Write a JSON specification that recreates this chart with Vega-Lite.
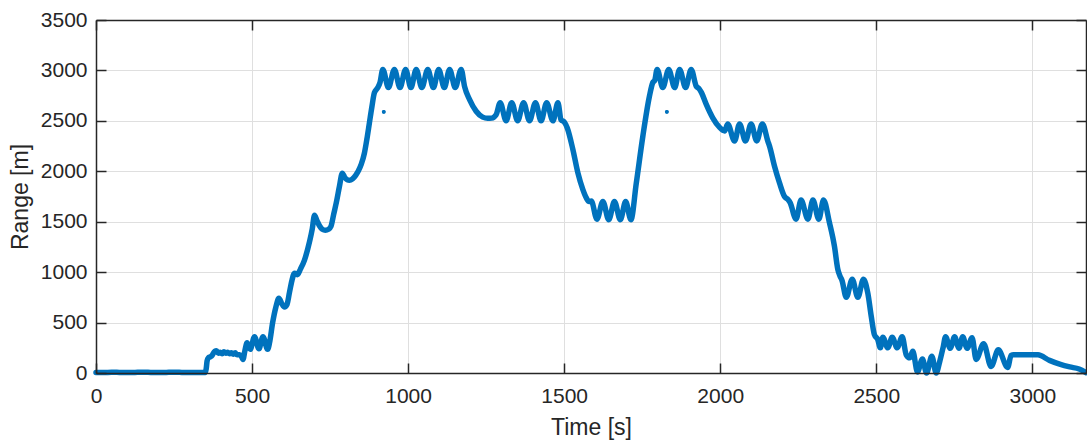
{
  "$schema": "https://vega.github.io/schema/vega-lite/v6.json",
  "autosize": {"type": "none"},
  "width": 990,
  "height": 353,
  "padding": {"left": 96, "top": 20, "right": 1, "bottom": 68},
  "background": "#ffffff",
  "config": {
    "font": "Liberation Sans",
    "view": {"stroke": null},
    "axis": {
      "gridColor": "#dfdfdf",
      "gridWidth": 1,
      "labelFlush": false,
      "labelOverlap": false,
      "labelFont": "Liberation Sans",
      "labelFontSize": 21,
      "labelColor": "#262626",
      "titleFont": "Liberation Sans",
      "titleFontSize": 23,
      "titleFontWeight": "normal",
      "titleColor": "#262626",
      "format": "d"
    }
  },
  "datasets": {
    "track": [
      {"time": 0, "range": 6}, {"time": 25, "range": 5}, {"time": 50, "range": 7}, {"time": 75, "range": 6},
      {"time": 100, "range": 5}, {"time": 125, "range": 6}, {"time": 150, "range": 7}, {"time": 175, "range": 6},
      {"time": 200, "range": 5}, {"time": 225, "range": 6}, {"time": 250, "range": 7}, {"time": 275, "range": 6},
      {"time": 300, "range": 5}, {"time": 325, "range": 6}, {"time": 350, "range": 6},
      {"time": 353, "range": 40}, {"time": 356, "range": 120}, {"time": 360, "range": 150}, {"time": 366, "range": 160},
      {"time": 372, "range": 175}, {"time": 380, "range": 215}, {"time": 386, "range": 220}, {"time": 392, "range": 195},
      {"time": 398, "range": 205}, {"time": 404, "range": 190}, {"time": 410, "range": 210}, {"time": 416, "range": 195},
      {"time": 422, "range": 205}, {"time": 428, "range": 190}, {"time": 434, "range": 200}, {"time": 440, "range": 185},
      {"time": 446, "range": 200}, {"time": 452, "range": 180}, {"time": 460, "range": 180}, {"time": 466, "range": 165},
      {"time": 471, "range": 135}, {"time": 477, "range": 220}, {"time": 484, "range": 300}, {"time": 494, "range": 235},
      {"time": 508, "range": 360}, {"time": 522, "range": 240}, {"time": 535, "range": 360}, {"time": 550, "range": 235},
      {"time": 556, "range": 300}, {"time": 566, "range": 500}, {"time": 576, "range": 650}, {"time": 586, "range": 740},
      {"time": 595, "range": 690}, {"time": 604, "range": 655}, {"time": 612, "range": 680}, {"time": 620, "range": 800},
      {"time": 628, "range": 920}, {"time": 636, "range": 990}, {"time": 645, "range": 975}, {"time": 655, "range": 1030},
      {"time": 668, "range": 1120}, {"time": 684, "range": 1300}, {"time": 693, "range": 1430}, {"time": 700, "range": 1565},
      {"time": 708, "range": 1510}, {"time": 716, "range": 1460}, {"time": 725, "range": 1425}, {"time": 735, "range": 1415},
      {"time": 745, "range": 1425}, {"time": 753, "range": 1455}, {"time": 762, "range": 1580}, {"time": 770, "range": 1690},
      {"time": 780, "range": 1850}, {"time": 789, "range": 1980}, {"time": 797, "range": 1940}, {"time": 805, "range": 1915},
      {"time": 812, "range": 1910}, {"time": 822, "range": 1925}, {"time": 832, "range": 1960}, {"time": 840, "range": 2000},
      {"time": 850, "range": 2070}, {"time": 860, "range": 2180}, {"time": 868, "range": 2320}, {"time": 876, "range": 2480},
      {"time": 884, "range": 2640}, {"time": 892, "range": 2780}, {"time": 903, "range": 2830}, {"time": 910, "range": 2880},
      {"time": 919, "range": 3010}, {"time": 937, "range": 2830}, {"time": 956, "range": 3010}, {"time": 974, "range": 2830},
      {"time": 992, "range": 3010}, {"time": 1009, "range": 2830}, {"time": 1026, "range": 3010}, {"time": 1044, "range": 2830},
      {"time": 1063, "range": 3010}, {"time": 1081, "range": 2830}, {"time": 1098, "range": 3010}, {"time": 1116, "range": 2830},
      {"time": 1133, "range": 3010}, {"time": 1151, "range": 2830}, {"time": 1170, "range": 3010}, {"time": 1181, "range": 2840},
      {"time": 1197, "range": 2710}, {"time": 1218, "range": 2595}, {"time": 1239, "range": 2537}, {"time": 1255, "range": 2525},
      {"time": 1268, "range": 2527}, {"time": 1282, "range": 2560}, {"time": 1295, "range": 2680}, {"time": 1314, "range": 2500},
      {"time": 1332, "range": 2680}, {"time": 1351, "range": 2500}, {"time": 1370, "range": 2680}, {"time": 1389, "range": 2500},
      {"time": 1408, "range": 2680}, {"time": 1426, "range": 2500}, {"time": 1444, "range": 2680}, {"time": 1464, "range": 2500},
      {"time": 1480, "range": 2680}, {"time": 1490, "range": 2510}, {"time": 1500, "range": 2490}, {"time": 1510, "range": 2430},
      {"time": 1528, "range": 2215}, {"time": 1544, "range": 1984}, {"time": 1560, "range": 1818}, {"time": 1572, "range": 1730},
      {"time": 1580, "range": 1700}, {"time": 1587, "range": 1705}, {"time": 1605, "range": 1525}, {"time": 1624, "range": 1700},
      {"time": 1643, "range": 1520}, {"time": 1661, "range": 1700}, {"time": 1680, "range": 1520}, {"time": 1697, "range": 1700},
      {"time": 1714, "range": 1520}, {"time": 1731, "range": 1880}, {"time": 1752, "range": 2345}, {"time": 1773, "range": 2740},
      {"time": 1784, "range": 2880}, {"time": 1790, "range": 2900}, {"time": 1798, "range": 3010}, {"time": 1816, "range": 2830},
      {"time": 1835, "range": 3010}, {"time": 1854, "range": 2830}, {"time": 1870, "range": 3010}, {"time": 1889, "range": 2830},
      {"time": 1907, "range": 3010}, {"time": 1923, "range": 2845}, {"time": 1932, "range": 2820}, {"time": 1940, "range": 2780},
      {"time": 1955, "range": 2665}, {"time": 1976, "range": 2530}, {"time": 1998, "range": 2435}, {"time": 2014, "range": 2400},
      {"time": 2024, "range": 2470}, {"time": 2046, "range": 2300}, {"time": 2062, "range": 2470}, {"time": 2081, "range": 2300},
      {"time": 2099, "range": 2470}, {"time": 2117, "range": 2300}, {"time": 2135, "range": 2470}, {"time": 2153, "range": 2295},
      {"time": 2158, "range": 2250}, {"time": 2174, "range": 2050}, {"time": 2190, "range": 1885}, {"time": 2206, "range": 1750},
      {"time": 2217, "range": 1720}, {"time": 2224, "range": 1690}, {"time": 2243, "range": 1525}, {"time": 2259, "range": 1715},
      {"time": 2281, "range": 1525}, {"time": 2297, "range": 1715}, {"time": 2316, "range": 1525}, {"time": 2331, "range": 1715},
      {"time": 2350, "range": 1490}, {"time": 2366, "range": 1256}, {"time": 2377, "range": 1025}, {"time": 2384, "range": 960},
      {"time": 2390, "range": 920}, {"time": 2404, "range": 750}, {"time": 2423, "range": 930}, {"time": 2441, "range": 750},
      {"time": 2459, "range": 930}, {"time": 2473, "range": 790}, {"time": 2484, "range": 560}, {"time": 2494, "range": 380},
      {"time": 2505, "range": 330}, {"time": 2513, "range": 250}, {"time": 2521, "range": 355}, {"time": 2537, "range": 250},
      {"time": 2551, "range": 355}, {"time": 2567, "range": 250}, {"time": 2583, "range": 360}, {"time": 2596, "range": 180},
      {"time": 2607, "range": 150}, {"time": 2617, "range": 215}, {"time": 2632, "range": 10}, {"time": 2648, "range": 140},
      {"time": 2661, "range": 0}, {"time": 2678, "range": 165}, {"time": 2692, "range": 0}, {"time": 2703, "range": 110},
      {"time": 2715, "range": 265}, {"time": 2722, "range": 360}, {"time": 2737, "range": 245}, {"time": 2751, "range": 360},
      {"time": 2765, "range": 245}, {"time": 2777, "range": 360}, {"time": 2791, "range": 245}, {"time": 2807, "range": 350},
      {"time": 2820, "range": 135}, {"time": 2844, "range": 290}, {"time": 2868, "range": 65}, {"time": 2891, "range": 230},
      {"time": 2921, "range": 55}, {"time": 2932, "range": 175}, {"time": 2940, "range": 182}, {"time": 2990, "range": 182},
      {"time": 3018, "range": 180}, {"time": 3055, "range": 125}, {"time": 3090, "range": 85}, {"time": 3120, "range": 60},
      {"time": 3150, "range": 40}, {"time": 3172, "range": 5}
    ],
    "strays": [
      {"time": 922, "range": 2590},
      {"time": 1829, "range": 2590}
    ]
  },
  "layer": [
    {
      "description": "range track over the interior grid",
      "data": {"name": "track"},
      "mark": {"type": "line", "color": "#0072BD", "strokeWidth": 5.5, "interpolate": "monotone", "strokeCap": "round", "strokeJoin": "round"},
      "encoding": {
        "x": {
          "field": "time", "type": "quantitative",
          "scale": {"domain": [0, 3172], "nice": false, "zero": false},
          "axis": {"orient": "bottom", "values": [500, 1000, 1500, 2000, 2500, 3000], "grid": true, "domain": false, "ticks": false, "labels": false, "title": null, "zindex": 0}
        },
        "y": {
          "field": "range", "type": "quantitative",
          "scale": {"domain": [0, 3500], "nice": false},
          "axis": {"orient": "left", "values": [500, 1000, 1500, 2000, 2500, 3000], "grid": true, "domain": false, "ticks": false, "labels": false, "title": null, "zindex": 0}
        }
      }
    },
    {
      "description": "stray returns with the labelled bottom and left axes",
      "data": {"name": "strays"},
      "mark": {"type": "point", "filled": true, "color": "#0072BD", "size": 14, "opacity": 1},
      "encoding": {
        "x": {
          "field": "time", "type": "quantitative",
          "axis": {"orient": "bottom", "values": [0, 500, 1000, 1500, 2000, 2500, 3000], "grid": false, "domain": true, "domainColor": "#262626", "domainWidth": 1.5, "ticks": true, "tickColor": "#262626", "tickWidth": 1.5, "tickSize": -10, "zindex": 1, "title": "Time [s]", "labelPadding": 22, "titlePadding": 10}
        },
        "y": {
          "field": "range", "type": "quantitative",
          "axis": {"orient": "left", "values": [0, 500, 1000, 1500, 2000, 2500, 3000, 3500], "grid": false, "domain": true, "domainColor": "#262626", "domainWidth": 1.5, "ticks": true, "tickColor": "#262626", "tickWidth": 1.5, "tickSize": -10, "zindex": 1, "title": "Range [m]", "labelPadding": 19, "titlePadding": 8}
        }
      }
    },
    {
      "description": "top and right box edges with inward ticks",
      "data": {"name": "strays"},
      "mark": {"type": "point", "filled": true, "color": "#0072BD", "size": 14, "opacity": 1},
      "encoding": {
        "x": {
          "field": "time", "type": "quantitative",
          "axis": {"orient": "top", "values": [0, 500, 1000, 1500, 2000, 2500, 3000], "grid": false, "labels": false, "domain": true, "domainColor": "#262626", "domainWidth": 1.5, "ticks": true, "tickColor": "#262626", "tickWidth": 1.5, "tickSize": -10, "zindex": 1, "title": null}
        },
        "y": {
          "field": "range", "type": "quantitative",
          "axis": {"orient": "right", "values": [0, 500, 1000, 1500, 2000, 2500, 3000, 3500], "grid": false, "labels": false, "domain": true, "domainColor": "#262626", "domainWidth": 1.5, "ticks": true, "tickColor": "#262626", "tickWidth": 1.5, "tickSize": -10, "zindex": 1, "title": null}
        }
      }
    }
  ],
  "resolve": {"axis": {"x": "independent", "y": "independent"}}
}
